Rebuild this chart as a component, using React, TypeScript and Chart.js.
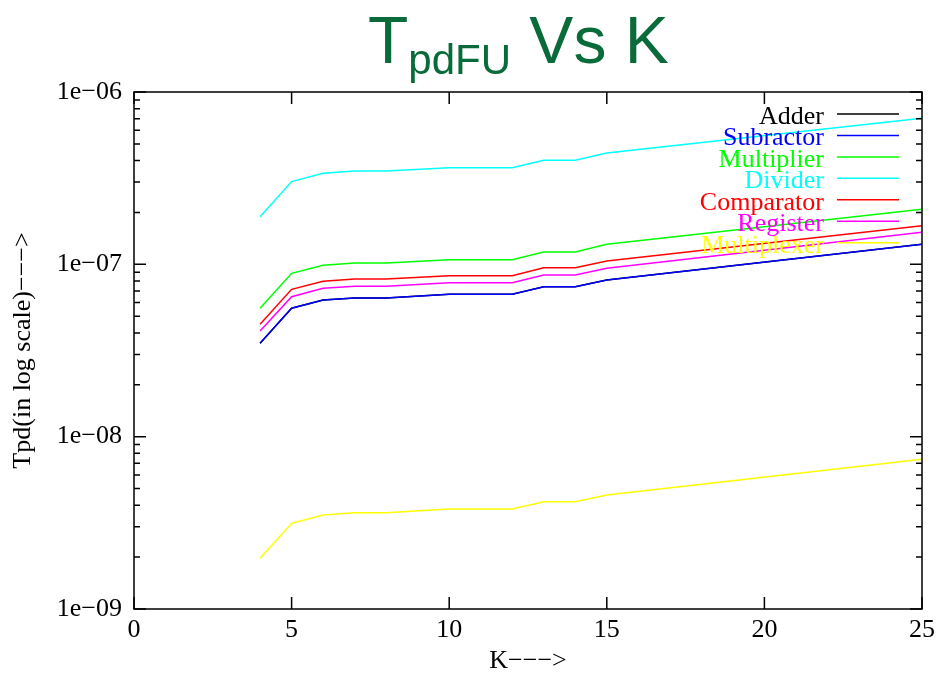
import React, { useEffect, useRef } from "react";
import { Chart, registerables } from "chart.js";

Chart.register(...registerables);

// ---------- data ----------
const kValues = [4, 5, 6, 7, 8, 10, 12, 13, 14, 15, 25];
const seriesNames = ["Adder", "Subractor", "Multiplier", "Divider", "Comparator", "Register", "Multiplexer"];
const seriesColors = ["#000000", "#0000ff", "#00ff00", "#00ffff", "#ff0000", "#ff00ff", "#ffff00"];
const adder = [3.48e-8, 5.56e-8, 6.21e-8, 6.38e-8, 6.38e-8, 6.7e-8, 6.7e-8, 7.42e-8, 7.42e-8, 8.11e-8, 1.307e-7];
const subractor = [3.48e-8, 5.56e-8, 6.21e-8, 6.38e-8, 6.38e-8, 6.7e-8, 6.7e-8, 7.42e-8, 7.42e-8, 8.11e-8, 1.307e-7];
const multiplier = [5.56e-8, 8.87e-8, 9.87e-8, 1.018e-7, 1.018e-7, 1.064e-7, 1.064e-7, 1.179e-7, 1.179e-7, 1.307e-7, 2.086e-7];
const divider = [1.89e-7, 3.02e-7, 3.375e-7, 3.48e-7, 3.48e-7, 3.64e-7, 3.64e-7, 4.02e-7, 4.02e-7, 4.43e-7, 7.04e-7];
const comparator = [4.49e-8, 7.16e-8, 7.97e-8, 8.22e-8, 8.22e-8, 8.59e-8, 8.59e-8, 9.56e-8, 9.56e-8, 1.045e-7, 1.675e-7];
const register = [4.1e-8, 6.49e-8, 7.26e-8, 7.46e-8, 7.46e-8, 7.82e-8, 7.83e-8, 8.67e-8, 8.67e-8, 9.48e-8, 1.534e-7];
const multiplexer = [1.97e-9, 3.14e-9, 3.51e-9, 3.62e-9, 3.62e-9, 3.8e-9, 3.8e-9, 4.19e-9, 4.19e-9, 4.58e-9, 7.39e-9];
const seriesValues = [adder, subractor, multiplier, divider, comparator, register, multiplexer];

const xTicks = [0, 5, 10, 15, 20, 25];
const yTicks = [1e-9, 1e-8, 1e-7, 1e-6];
const yTickLabels = ["1e\u221209", "1e\u221208", "1e\u221207", "1e\u221206"];
const minorMultipliers = [2, 3, 4, 5, 6, 7, 8, 9];

const titleMain = "T";
const titleSub = "pdFU";
const titleRest = " Vs K";
const xTitle = "K\u2212\u2212\u2212>";
const yTitle = "Tpd(in log scale)\u2212\u2212\u2212>";

// ---------- styles ----------
const SERIF = '"Liberation Serif", "Times New Roman", serif';
const SANS = '"Liberation Sans", Arial, sans-serif';
const TITLE_COLOR = "#0a6b3a";

const titlePlugin = {
  id: "gnuTitle",
  afterDraw(chart: any) {
    const ctx = chart.ctx;
    ctx.save();
    ctx.fillStyle = TITLE_COLOR;
    ctx.textAlign = "left";
    ctx.textBaseline = "alphabetic";
    let x = 368;
    ctx.font = `66px ${SANS}`;
    ctx.fillText(titleMain, x, 63);
    x += ctx.measureText(titleMain).width;
    ctx.font = `42px ${SANS}`;
    ctx.fillText(titleSub, x, 74);
    x += ctx.measureText(titleSub).width;
    ctx.font = `66px ${SANS}`;
    ctx.fillText(titleRest, x, 63);
    ctx.restore();
  },
};

const framePlugin = {
  id: "gnuFrame",
  afterDraw(chart: any) {
    const { ctx, chartArea } = chart;
    const { left, right, top, bottom } = chartArea;
    const xs = chart.scales.x;
    const ys = chart.scales.y;
    ctx.save();
    ctx.strokeStyle = "#000";
    ctx.lineWidth = 1.5;
    ctx.beginPath();
    xTicks.forEach((v) => {
      const px = xs.getPixelForValue(v);
      ctx.moveTo(px, bottom);
      ctx.lineTo(px, bottom - 12);
      ctx.moveTo(px, top);
      ctx.lineTo(px, top + 12);
    });
    yTicks.forEach((v) => {
      const py = ys.getPixelForValue(v);
      ctx.moveTo(left, py);
      ctx.lineTo(left + 12, py);
      ctx.moveTo(right, py);
      ctx.lineTo(right - 12, py);
    });
    yTicks.slice(0, -1).forEach((d) => {
      minorMultipliers.forEach((m) => {
        const py = ys.getPixelForValue(d * m);
        ctx.moveTo(left, py);
        ctx.lineTo(left + 6, py);
        ctx.moveTo(right, py);
        ctx.lineTo(right - 6, py);
      });
    });
    ctx.stroke();
    ctx.lineWidth = 1.5;
    ctx.strokeRect(left, top, right - left, bottom - top);
    ctx.restore();
  },
};

const legendPlugin = {
  id: "gnuLegend",
  afterDraw(chart: any) {
    const ctx = chart.ctx;
    ctx.save();
    ctx.font = `26px ${SERIF}`;
    ctx.textAlign = "right";
    ctx.textBaseline = "alphabetic";
    chart.data.datasets.forEach((ds: any, i: number) => {
      const y = 114 + i * 21.45;
      ctx.fillStyle = ds.borderColor;
      ctx.fillText(ds.label, 824, y + 10);
      ctx.strokeStyle = ds.borderColor;
      ctx.lineWidth = 1.5;
      ctx.beginPath();
      ctx.moveTo(837, y);
      ctx.lineTo(899, y);
      ctx.stroke();
    });
    ctx.restore();
  },
};

export default function App() {
  const canvasRef = useRef<HTMLCanvasElement | null>(null);

  useEffect(() => {
    if (!canvasRef.current) return;
    const datasets = seriesNames.map((name, i) => ({
      label: name,
      data: kValues.map((k, j) => ({ x: k, y: seriesValues[i][j] })),
      borderColor: seriesColors[i],
      backgroundColor: seriesColors[i],
      borderWidth: 1.5,
      pointRadius: 0,
      tension: 0,
      fill: false,
      order: seriesNames.length - i,
    }));
    const chart = new Chart(canvasRef.current, {
      type: "line",
      data: { datasets },
      options: {
        animation: false,
        responsive: false,
        devicePixelRatio: 1,
        layout: { padding: { top: 92, right: 19, left: 0, bottom: 0 } },
        plugins: {
          legend: { display: false },
          tooltip: { enabled: false },
          title: { display: false },
        },
        scales: {
          x: {
            type: "linear",
            min: 0,
            max: 25,
            afterBuildTicks: (scale: any) => {
              scale.ticks = xTicks.map((v) => ({ value: v }));
            },
            afterFit: (scale: any) => {
              scale.height = 68;
            },
            ticks: {
              color: "#000",
              font: { family: SERIF, size: 26 },
              padding: 6,
              maxRotation: 0,
              autoSkip: false,
            },
            grid: { display: false, drawTicks: false },
            border: { display: false },
            title: {
              display: true,
              text: xTitle,
              color: "#000",
              font: { family: SERIF, size: 26 },
              padding: { top: 0, bottom: 0 },
            },
          },
          y: {
            type: "logarithmic",
            min: 1e-9,
            max: 1e-6,
            afterBuildTicks: (scale: any) => {
              scale.ticks = yTicks.map((v) => ({ value: v }));
            },
            afterFit: (scale: any) => {
              scale.width = 134;
            },
            ticks: {
              color: "#000",
              font: { family: SERIF, size: 26 },
              padding: 12,
              autoSkip: false,
              callback: (value: any) => {
                const idx = yTicks.findIndex((t) => Math.abs(Math.log10(t) - Math.log10(value)) < 1e-6);
                return idx >= 0 ? yTickLabels[idx] : "";
              },
            },
            grid: { display: false, drawTicks: false },
            border: { display: false },
            title: {
              display: true,
              text: yTitle,
              color: "#000",
              font: { family: SERIF, size: 26 },
              padding: { top: 8, bottom: 0 },
            },
          },
        },
      },
      plugins: [framePlugin, legendPlugin, titlePlugin],
    } as any);
    return () => chart.destroy();
  }, []);

  return (
    <div style={{ position: "fixed", left: 0, top: 0, width: 941, height: 677, background: "#fff" }}>
      <canvas ref={canvasRef} width={941} height={677} style={{ width: 941, height: 677, display: "block" }} />
    </div>
  );
}
